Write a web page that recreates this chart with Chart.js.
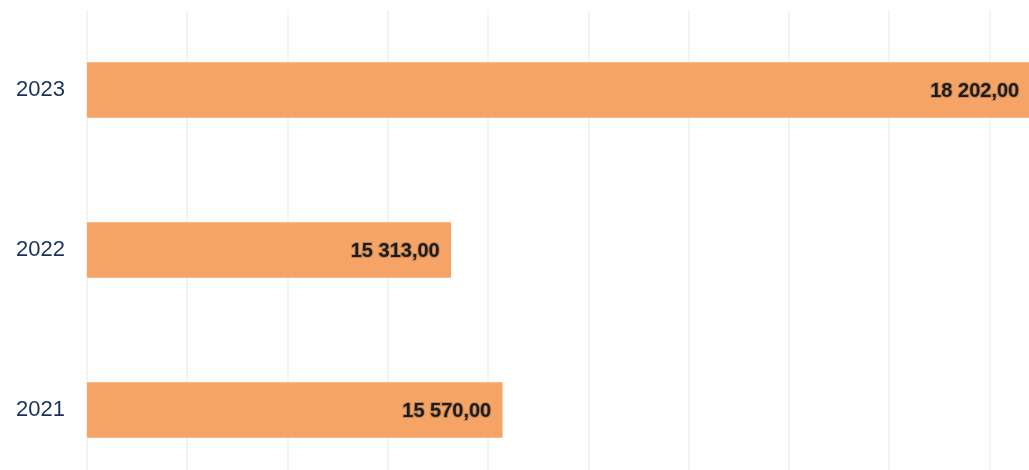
<!DOCTYPE html>
<html>
<head>
<meta charset="utf-8">
<script src="https://cdn.jsdelivr.net/npm/chart.js@4/dist/chart.umd.min.js"></script>
<style>
  html, body { margin: 0; padding: 0; background: #ffffff; overflow: hidden; width: 1029px; height: 470px; }
  canvas { display: block; }
</style>
</head>
<body>
<canvas id="c" width="1090" height="490"></canvas>
<script>
const categories = ['2023', '2022', '2021'];
const values = [18202, 15313, 15570];
const axisMin = 13500;
const axisMax = 18500;
const axisStep = 500;

function formatValue(v) {
  const parts = v.toFixed(2).split('.');
  const intPart = parts[0].replace(/\B(?=(\d{3})+(?!\d))/g, ' ');
  return intPart + ',' + parts[1];
}

const valueLabels = {
  id: 'valueLabels',
  afterDatasetsDraw(chart) {
    const ctx = chart.ctx;
    const meta = chart.getDatasetMeta(0);
    ctx.save();
    ctx.font = 'bold 20px "Liberation Sans", Arial, sans-serif';
    ctx.textAlign = 'right';
    ctx.textBaseline = 'middle';
    meta.data.forEach((bar, i) => {
      const txt = formatValue(chart.data.datasets[0].data[i]);
      const x = Math.min(bar.x, chart.width) - 11;
      ctx.lineWidth = 2;
      ctx.strokeStyle = 'rgba(110,80,50,0.35)';
      ctx.strokeText(txt, x, bar.y + 1);
      ctx.fillStyle = '#1c1c1c';
      ctx.fillText(txt, x, bar.y + 1);
    });
    ctx.restore();
  }
};

new Chart(document.getElementById('c'), {
  type: 'bar',
  data: {
    labels: categories,
    datasets: [{
      data: values,
      backgroundColor: '#f6a466',
      borderWidth: 0,
      barThickness: 55
    }]
  },
  options: {
    indexAxis: 'y',
    responsive: false,
    animation: false,
    layout: { padding: { top: 10, left: 0, right: 0, bottom: 0 } },
    plugins: {
      legend: { display: false },
      tooltip: { enabled: false }
    },
    scales: {
      x: {
        min: axisMin,
        max: axisMax,
        ticks: { display: false, stepSize: axisStep },
        grid: { color: '#f4f4f4', lineWidth: 2, drawTicks: false },
        border: { display: false },
        afterFit(s) { s.height = 0; s.paddingLeft = 0; s.paddingRight = 0; }
      },
      y: {
        grid: { display: false, drawTicks: false },
        border: { display: false },
        ticks: {
          color: '#1a305c',
          padding: 22,
          font: { family: '"Liberation Sans", Arial, sans-serif', size: 22 }
        },
        afterFit(s) { s.width = 87; s.paddingTop = 0; s.paddingBottom = 0; }
      }
    }
  },
  plugins: [valueLabels]
});
</script>
</body>
</html>
